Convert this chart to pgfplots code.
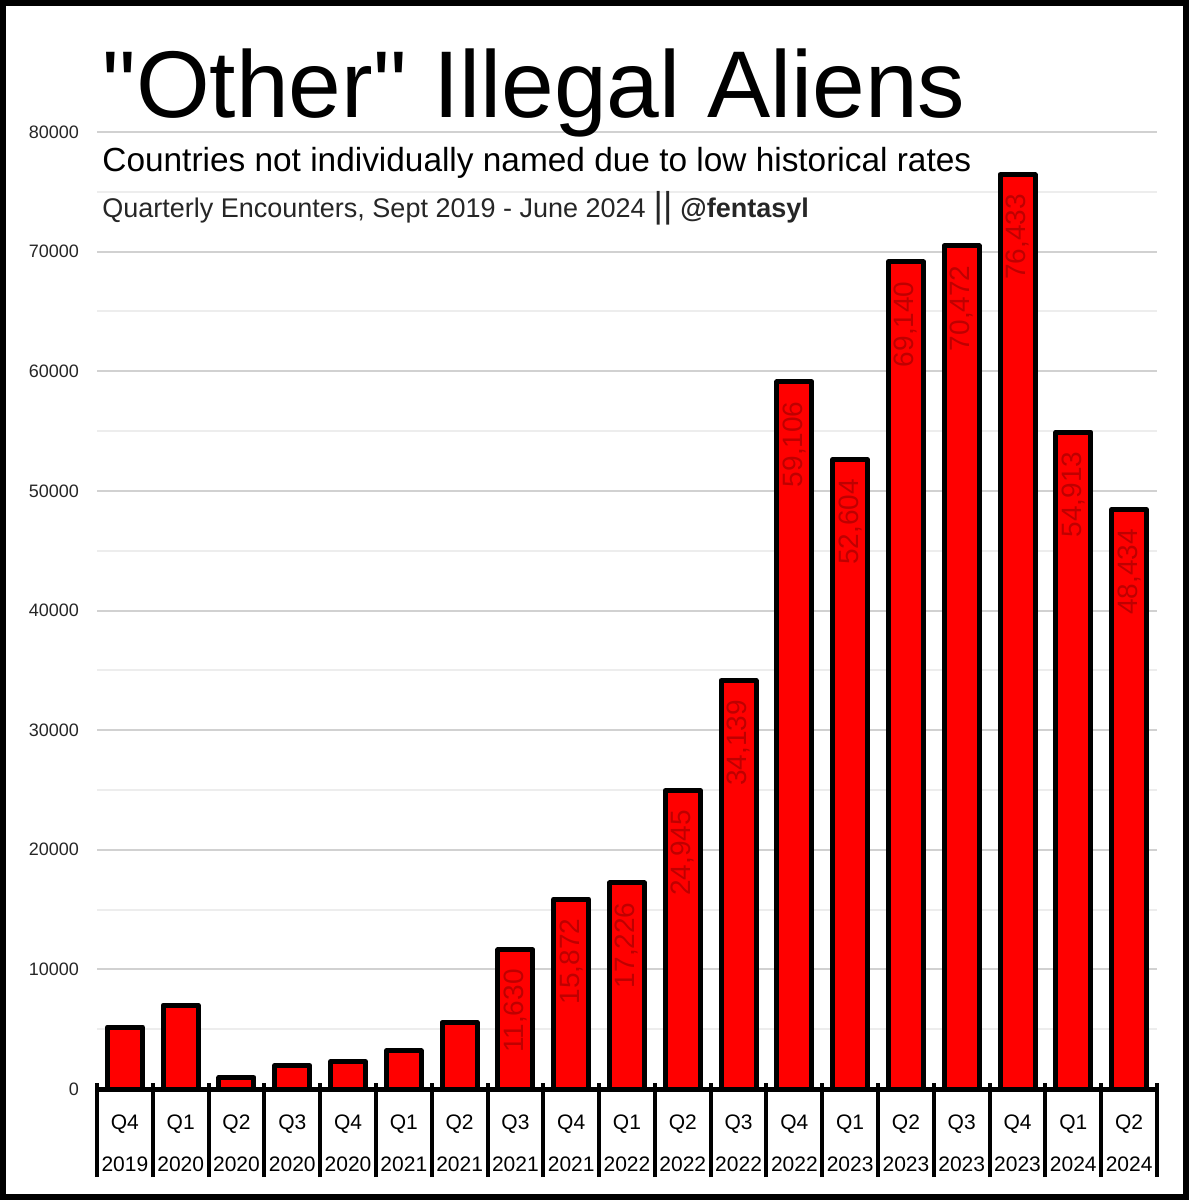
\documentclass[border=0pt]{standalone}
\usepackage{pgfplots}
\usepackage{pgfplotstable}
\usepackage{fontspec}
\setmainfont{Liberation Sans}
\pgfplotsset{compat=1.18}
\definecolor{barred}{RGB}{255,0,0}
\definecolor{labred}{RGB}{190,0,0}
\pgfplotstableread{
x y lab
0 5180 {}
1 7020 {}
2 950 {}
3 1950 {}
4 2290 {}
5 3180 {}
6 5580 {}
7 11630 11,630
8 15872 15,872
9 17226 17,226
10 24945 24,945
11 34139 34,139
12 59106 59,106
13 52604 52,604
14 69140 69,140
15 70472 70,472
16 76433 76,433
17 54913 54,913
18 48434 48,434
}\datatable
\begin{document}
\begin{tikzpicture}
\useasboundingbox (0,0) rectangle (594.5pt,600pt);
\begin{axis}[
  at={(48.5pt,55.5pt)}, anchor=south west,
  scale only axis, width=530pt, height=478.5pt,
  xmin=-0.5, xmax=18.5, ymin=0, ymax=80000,
  axis x line*=bottom, axis y line*=left,
  x axis line style={line width=2.5pt, black},
  y axis line style={draw=none},
  xtick={0,...,18},
  xticklabels={{Q4\\2019},{Q1\\2020},{Q2\\2020},{Q3\\2020},{Q4\\2020},{Q1\\2021},{Q2\\2021},{Q3\\2021},{Q4\\2021},{Q1\\2022},{Q2\\2022},{Q3\\2022},{Q4\\2022},{Q1\\2023},{Q2\\2023},{Q3\\2023},{Q4\\2023},{Q1\\2024},{Q2\\2024}},
  xticklabel style={align=center, font=\fontsize{10.5}{21}\selectfont, anchor=north, yshift=-9.5pt},
  major x tick style={draw=none},
  major tick length=0pt,
  minor xtick={-0.5,0.5,...,18.5},
  minor tick length=44pt,
  xtick align=outside,
  minor x tick style={line width=2pt, black},
  extra x ticks={-0.5,0.5,...,18.5},
  extra x tick labels={},
  extra x tick style={major tick length=3pt, tick align=inside, major x tick style={draw=black, line width=2pt}},
  ytick={0,10000,...,80000},
  minor ytick={5000,15000,...,75000},
  scaled y ticks=false,
  major y tick style={draw=none},
  minor y tick style={draw=none},
  ymajorgrids, yminorgrids,
  major grid style={line width=1pt, black!18},
  minor grid style={line width=1pt, black!7},
  yticklabel style={font=\fontsize{9}{9}\selectfont, text=black!85, xshift=-5.5pt},
  /pgf/number format/1000 sep={},
  /pgf/number format/assume math mode=true,
  clip=false,
]
\addplot[ybar, bar width=17.5pt, fill=barred, draw=black, line width=2.5pt, line join=round,
  point meta=explicit symbolic,
  nodes near coords,
  every node near coord/.append style={rotate=90, anchor=east, inner xsep=8.5pt, inner ysep=0pt,
    font=\fontsize{14}{14}\selectfont, text=labred}]
  table[x=x, y=y, meta=lab] {\datatable};
\end{axis}
\node[anchor=base west, inner sep=0pt, font=\fontsize{47.4}{47.4}\selectfont] at (51pt,541pt) {\textquotedbl Other\textquotedbl{} Illegal Aliens};
\node[anchor=base west, inner sep=0pt, font=\fontsize{16.7}{16.7}\selectfont] at (51pt,514pt) {Countries not individually named due to low historical rates};
\node[anchor=base west, inner sep=0pt, font=\fontsize{13.5}{13.5}\selectfont, text=black!85] at (51pt,491pt) {Quarterly Encounters, Sept 2019 - June 2024\hspace{4pt}{\fontsize{18}{18}\selectfont||}\hspace{4pt}\textbf{@fentasyl}};
\draw[line width=3pt] (1.5pt,1.5pt) rectangle (593pt,598.5pt);
\end{tikzpicture}
\end{document}
